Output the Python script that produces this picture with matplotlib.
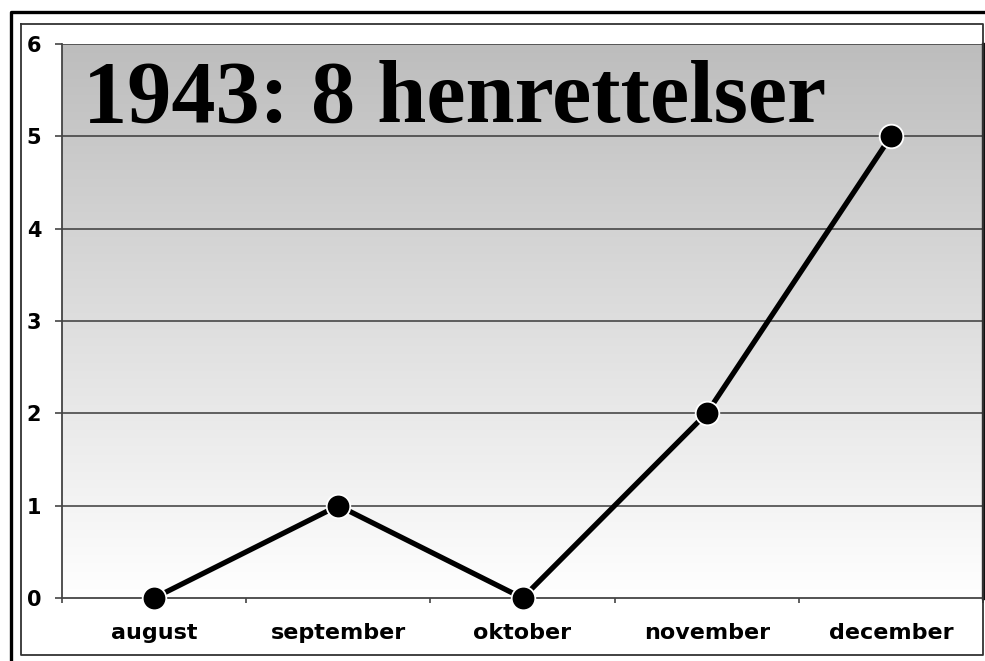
import numpy as np
import matplotlib
matplotlib.use("Agg")
import matplotlib.pyplot as plt
from matplotlib.lines import Line2D
from matplotlib.colors import LinearSegmentedColormap

# data
months = ["august", "september", "oktober", "november", "december"]
executions = [0, 1, 0, 2, 5]
title = "1943: 8 henrettelser"

W, H = 985, 661
fig = plt.figure(figsize=(W / 100, H / 100), dpi=100)
fig.patch.set_facecolor("white")

def fx(px):
    return px / W

def fy(py):
    return 1 - py / H

# plot area
ax = fig.add_axes([fx(62), fy(598), fx(983) - fx(62), fy(44) - fy(598)])

# gray-to-white gradient background
grad = np.linspace(1, 0, 256).reshape(-1, 1)
cmap = LinearSegmentedColormap.from_list("bg", ["#ffffff", "#bdbdbd"])
ax.imshow(grad, cmap=cmap, aspect="auto", extent=[0, 1, 0, 1],
          transform=ax.transAxes, zorder=0)

x = np.arange(len(months))
ax.set_xlim(-0.5, len(months) - 0.5)
ax.set_ylim(0, 6)

for yv in range(1, 7):
    ax.axhline(yv, color="#3a3a3a", lw=1.1, zorder=1)

ax.plot(x, executions, color="black", lw=3.8, zorder=3,
        marker="o", markersize=17, markerfacecolor="black",
        markeredgecolor="white", markeredgewidth=1.3, clip_on=False)

ax.text(-0.385, 5.16, title, fontfamily="Liberation Serif", fontweight="bold",
        fontsize=63.5, va="baseline", ha="left", zorder=4)

# axes styling
for s in ["left", "bottom"]:
    ax.spines[s].set_color("#444444")
    ax.spines[s].set_linewidth(1.3)
ax.spines["top"].set_visible(False)
ax.spines["right"].set_color("#111111")
ax.spines["right"].set_linewidth(2.4)

ax.set_yticks(range(0, 7))
ax.set_yticklabels([str(v) for v in range(0, 7)], fontfamily="DejaVu Sans",
                   fontweight="bold", fontsize=15)
ax.tick_params(axis="y", length=5, width=1.2, color="#444444", pad=10)

ax.set_xticks(x)
ax.set_xticklabels(months, fontfamily="DejaVu Sans", fontweight="bold", fontsize=16)
ax.tick_params(axis="x", which="major", length=0, pad=18)
ax.set_xticks(np.arange(-0.5, len(months), 1), minor=True)
ax.tick_params(axis="x", which="minor", length=3.6, width=1.2, color="#444444")

# inner thin frame
fig.add_artist(Line2D([fx(21), fx(983), fx(983), fx(21), fx(21)],
                      [fy(24), fy(24), fy(655), fy(655), fy(24)],
                      color="#333333", lw=1.3, transform=fig.transFigure))
# outer thick frame (left and top only visible)
fig.add_artist(Line2D([fx(11), fx(11), fx(990)],
                      [fy(670), fy(12), fy(12)],
                      color="black", lw=2.4, transform=fig.transFigure))

fig.savefig("out.png", dpi=100)
